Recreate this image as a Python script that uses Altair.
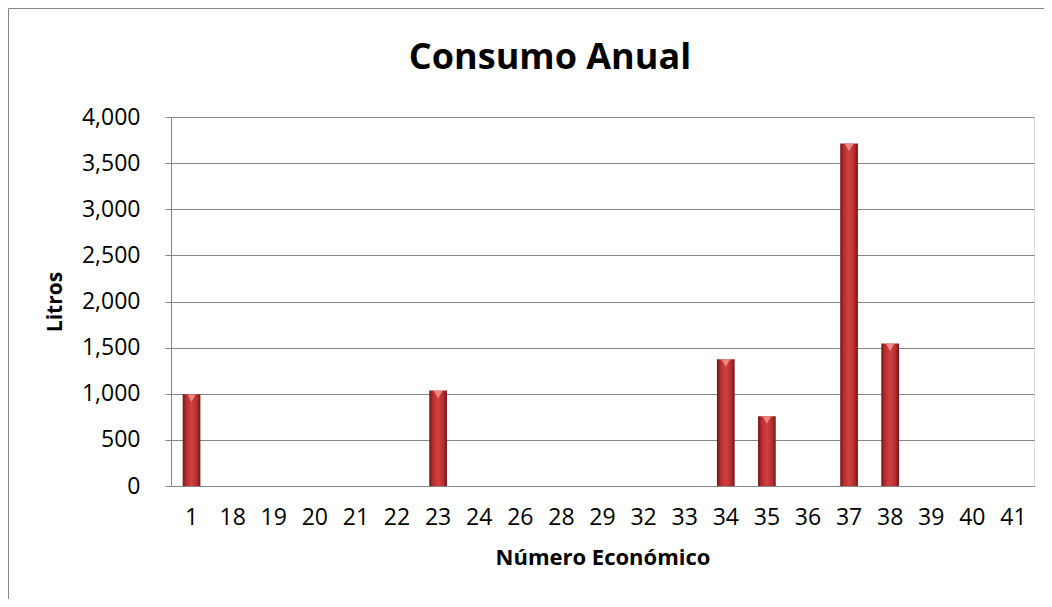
import altair as alt
import pandas as pd

categories = ["1", "18", "19", "20", "21", "22", "23", "24", "26", "28", "29",
              "32", "33", "34", "35", "36", "37", "38", "39", "40", "41"]
values = [995, 0, 0, 0, 0, 0, 1035, 0, 0, 0, 0,
          0, 0, 1375, 757, 0, 3712, 1545, 0, 0, 0]
chart_title = "Consumo Anual"

df = pd.DataFrame({"cat": categories, "val": values})
nz = df[df["val"] > 0]

FONT = "Open Sans"

xenc = alt.X("cat:N", sort=categories, title="Número Económico",
             scale=alt.Scale(paddingInner=0.57, paddingOuter=0.285),
             axis=alt.Axis(labelAngle=0, labelFontSize=23, labelColor="#000",
                           labelPadding=20, ticks=False, domain=True,
                           domainColor="#868686", titleFontSize=22,
                           titleFontWeight="bold", titleColor="#000",
                           titlePadding=18, labelFont=FONT, titleFont=FONT))
yenc = alt.Y("val:Q", title="Litros",
             scale=alt.Scale(domain=[0, 4000], nice=False),
             axis=alt.Axis(values=list(range(0, 4001, 500)), format=",.0f",
                           labelFontSize=23, labelColor="#000", labelPadding=25,
                           tickSize=6, tickColor="#868686", domainColor="#868686",
                           gridColor="#868686", titleFontSize=21,
                           titleFontWeight="bold", titleColor="#000",
                           titlePadding=16, labelFont=FONT, titleFont=FONT))

grad = alt.Gradient(gradient="linear", x1=0, x2=1, y1=0, y2=0,
                    stops=[alt.GradientStop(color="#6e1414", offset=0),
                           alt.GradientStop(color="#b52e30", offset=0.2),
                           alt.GradientStop(color="#d2403f", offset=0.5),
                           alt.GradientStop(color="#b52e30", offset=0.8),
                           alt.GradientStop(color="#6e1414", offset=1)])

bars = alt.Chart(df).mark_bar(fill=grad).encode(x=xenc, y=yenc)

tri = alt.Chart(nz).mark_point(shape="triangle-down", filled=True,
                               color="#f28e8e", size=70, opacity=0.9,
                               yOffset=4).encode(
    x=alt.X("cat:N", sort=categories), y="val:Q")

one = alt.Chart(pd.DataFrame({"t": [chart_title]}))
left_border = one.mark_rule(color="#868686", strokeWidth=1).encode(
    x=alt.value(-162.5), y=alt.value(-108.5), y2=alt.value(490))
top_border = one.mark_rule(color="#868686", strokeWidth=1).encode(
    x=alt.value(-162.5), x2=alt.value(900), y=alt.value(-108.5))
title_txt = one.mark_text(font=FONT, fontSize=36, fontWeight="bold",
                          color="#000", align="center", baseline="middle").encode(
    text="t:N", x=alt.value(379), y=alt.value(-59))

chart = alt.layer(bars, tri, left_border, top_border, title_txt).properties(
    width=863, height=369,
    padding={"left": 163, "top": 109, "right": 10, "bottom": 113},
    autosize=alt.AutoSizeParams(type="none")
).configure_view(stroke=None).configure(background="white")

chart.save("out.html", embed_options={"renderer": "svg", "actions": False})
